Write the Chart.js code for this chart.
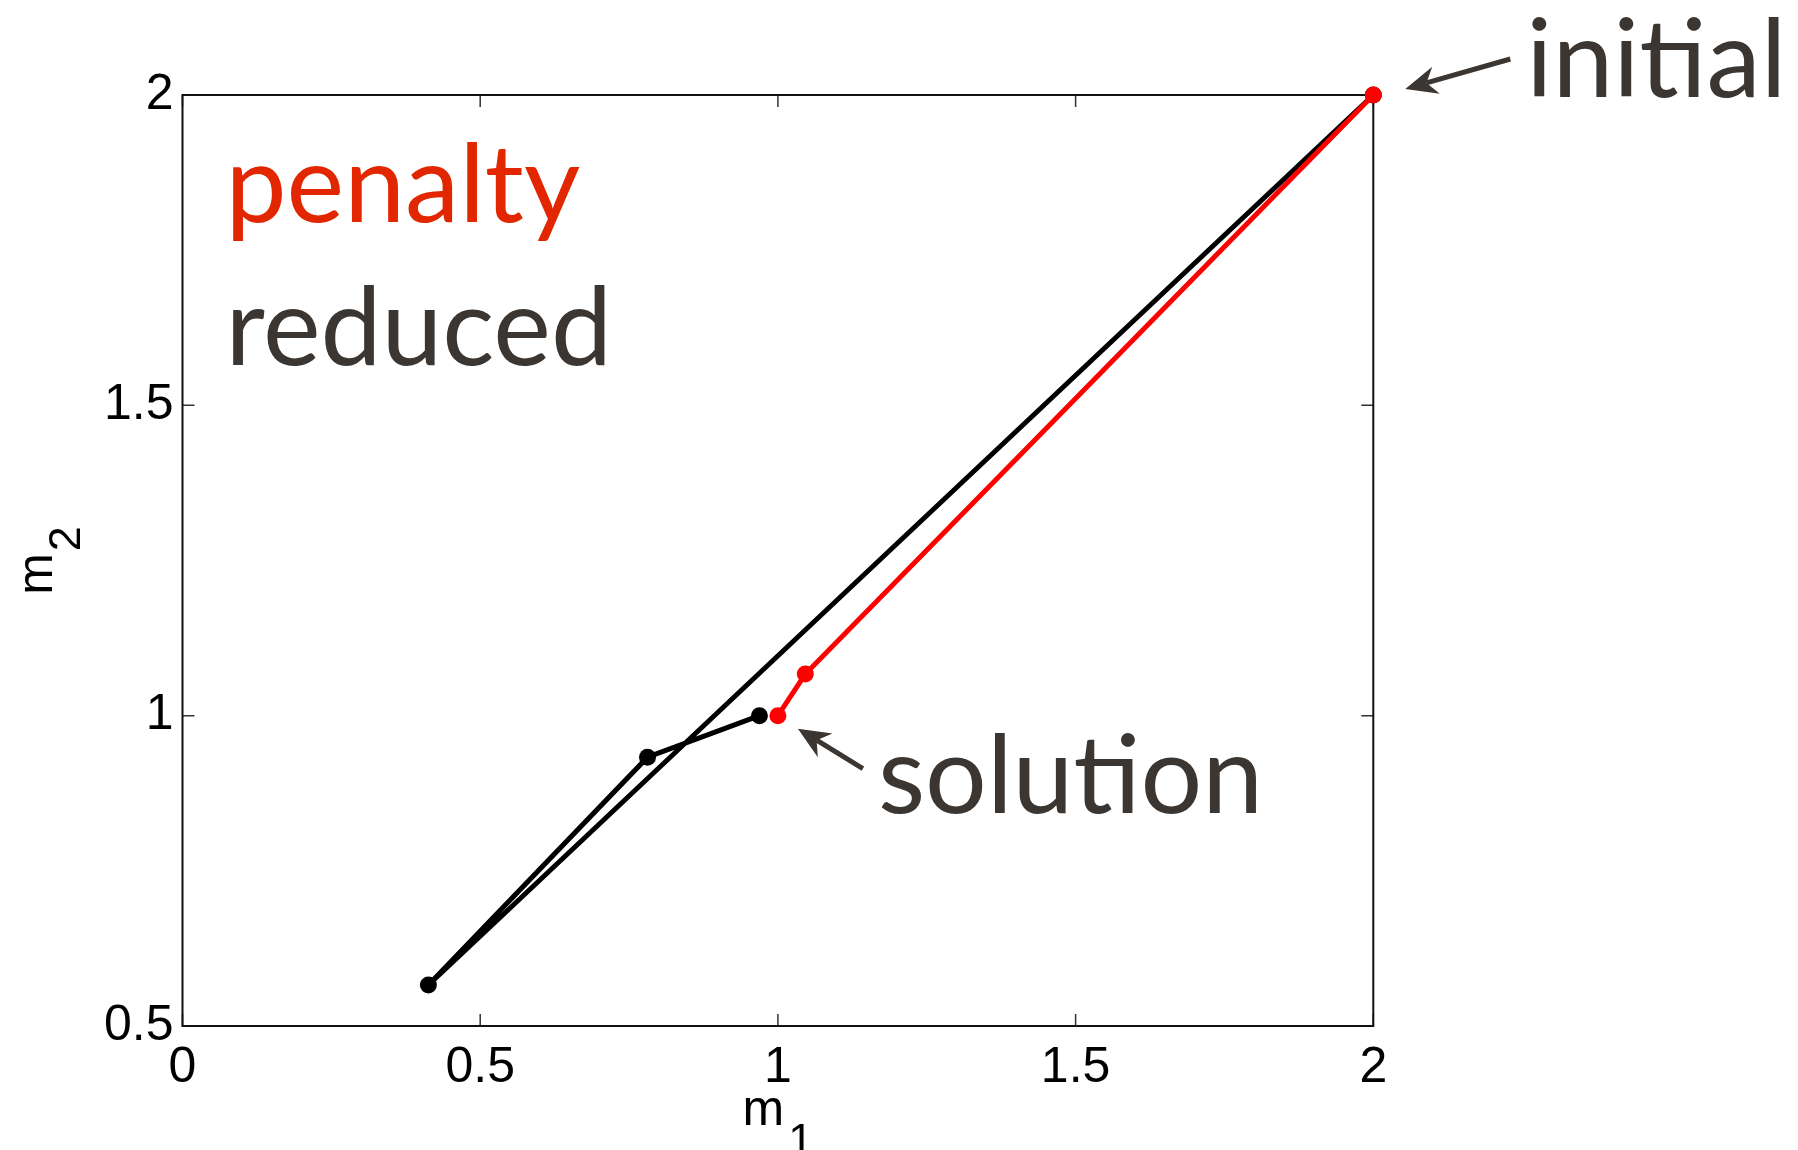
<!DOCTYPE html>
<html>
<head>
<meta charset="utf-8">
<script src="https://cdn.jsdelivr.net/npm/chart.js@4.4.1/dist/chart.umd.min.js"></script>
<style>
  html, body { margin: 0; padding: 0; background: #ffffff; }
  #wrap { width: 1798px; height: 1150px; position: relative; }
</style>
</head>
<body>
<div id="wrap"><canvas id="chart"></canvas></div>
<script>
// Axis ticks and their labels
const xTicks = [0, 0.5, 1, 1.5, 2];
const xTickLabels = ['0', '0.5', '1', '1.5', '2'];
const yTicks = [0.5, 1, 1.5, 2];
const yTickLabels = ['0.5', '1', '1.5', '2'];

// Iterates of the reduced method (m1, m2)
const reducedM1 = [2, 0.413, 0.781, 0.969];
const reducedM2 = [2, 0.566, 0.933, 1.0];

// Iterates of the penalty method (m1, m2)
const penaltyM1 = [2, 1.046, 1.0];
const penaltyM2 = [2, 1.067, 1.0];

// Labels
const seriesNames = ['reduced', 'penalty'];
const axisNames = ['m', 'm'];
const axisSubs = ['1', '2'];
const initialLabel = 'initial';
const solutionLabel = 'solution';
const initialPoint = [2, 2];
const solutionPoint = [1, 1];

const RED = '#ff0000';
const TEXT_RED = '#e22600';
const DARK = '#3b3631';
const TICK_FONT = '"Liberation Sans", Arial, Helvetica, sans-serif';
const NOTE_FONT = 'Lato, "Open Sans", sans-serif';

const toPoints = (xs, ys) => xs.map((x, i) => ({ x: x, y: ys[i] }));

function drawArrow(ctx, x1, y1, x2, y2) {
  // shaft from (x1,y1) to the tip (x2,y2), notched arrow head at the tip
  const ang = Math.atan2(y2 - y1, x2 - x1);
  const headLen = 32, halfW = 14, notch = 10;
  const cos = Math.cos(ang), sin = Math.sin(ang);
  const bx = x2 - headLen * cos, by = y2 - headLen * sin;
  const nx = x2 - (headLen - notch) * cos, ny = y2 - (headLen - notch) * sin;
  ctx.save();
  ctx.strokeStyle = DARK;
  ctx.fillStyle = DARK;
  ctx.lineWidth = 5;
  ctx.beginPath();
  ctx.moveTo(x1, y1);
  ctx.lineTo(nx, ny);
  ctx.stroke();
  ctx.beginPath();
  ctx.moveTo(x2, y2);
  ctx.lineTo(bx - halfW * sin, by + halfW * cos);
  ctx.lineTo(nx, ny);
  ctx.lineTo(bx + halfW * sin, by - halfW * cos);
  ctx.closePath();
  ctx.fill();
  ctx.restore();
}

const framePlugin = {
  id: 'frame',
  beforeDatasetsDraw(chart) {
    const { ctx, chartArea: a, scales } = chart;
    ctx.save();
    // inward tick marks on all four sides
    ctx.strokeStyle = '#333333';
    ctx.lineWidth = 1.5;
    const tl = 12;
    ctx.beginPath();
    xTicks.forEach(v => {
      const px = scales.x.getPixelForValue(v);
      ctx.moveTo(px, a.bottom); ctx.lineTo(px, a.bottom - tl);
      ctx.moveTo(px, a.top); ctx.lineTo(px, a.top + tl);
    });
    yTicks.forEach(v => {
      const py = scales.y.getPixelForValue(v);
      ctx.moveTo(a.left, py); ctx.lineTo(a.left + tl, py);
      ctx.moveTo(a.right, py); ctx.lineTo(a.right - tl, py);
    });
    ctx.stroke();
    // axes box
    ctx.strokeStyle = '#111111';
    ctx.lineWidth = 2;
    ctx.strokeRect(a.left, a.top, a.right - a.left, a.bottom - a.top);
    ctx.restore();
  },
  afterDraw(chart) {
    const { ctx, chartArea: a, scales } = chart;
    ctx.save();
    // axis titles with subscripts
    ctx.fillStyle = '#000000';
    ctx.textBaseline = 'alphabetic';
    ctx.textAlign = 'left';
    const mainFont = '50px ' + TICK_FONT;
    const subFont = '45px ' + TICK_FONT;
    ctx.font = mainFont;
    const mW = ctx.measureText(axisNames[0]).width;
    ctx.font = subFont;
    const s1W = ctx.measureText(axisSubs[0]).width;
    const cx = (a.left + a.right) / 2;
    const x0 = cx - (mW + 4 + s1W) / 2;
    ctx.font = mainFont;
    ctx.fillText(axisNames[0], x0, a.bottom + 99);
    ctx.font = subFont;
    ctx.fillText(axisSubs[0], x0 + mW + 4, a.bottom + 99 + 30);

    ctx.save();
    const cy = (a.top + a.bottom) / 2;
    ctx.translate(52, cy);
    ctx.rotate(-Math.PI / 2);
    ctx.font = mainFont;
    const m2W = ctx.measureText(axisNames[1]).width;
    ctx.font = subFont;
    const s2W = ctx.measureText(axisSubs[1]).width;
    const x2 = -(m2W + 2 + s2W) / 2;
    ctx.font = mainFont;
    ctx.fillText(axisNames[1], x2, 0);
    ctx.font = subFont;
    ctx.fillText(axisSubs[1], x2 + m2W + 2, 28);
    ctx.restore();

    // method names inside the axes
    ctx.font = '109px ' + NOTE_FONT;
    ctx.fillStyle = TEXT_RED;
    ctx.fillText(seriesNames[1], a.left + 43, a.top + 127);
    ctx.fillStyle = DARK;
    ctx.fillText(seriesNames[0], a.left + 43, a.top + 270);

    // initial / solution callouts
    const ix = scales.x.getPixelForValue(initialPoint[0]);
    const iy = scales.y.getPixelForValue(initialPoint[1]);
    drawArrow(ctx, ix + 137, iy - 36, ix + 32, iy - 6);
    ctx.fillText(initialLabel, ix + 153, iy + 2);

    const sx = scales.x.getPixelForValue(solutionPoint[0]);
    const sy = scales.y.getPixelForValue(solutionPoint[1]);
    drawArrow(ctx, sx + 85, sy + 53, sx + 20, sy + 13);
    ctx.fillText(solutionLabel, sx + 100, sy + 97);
    ctx.restore();
  }
};

const ctx = document.getElementById('chart').getContext('2d');
new Chart(ctx, {
  type: 'scatter',
  data: {
    datasets: [
      {
        label: seriesNames[0],
        data: toPoints(reducedM1, reducedM2),
        order: 2,
        showLine: true,
        borderColor: '#000000',
        backgroundColor: '#000000',
        borderWidth: 5,
        pointRadius: 8.5,
        pointBorderWidth: 0,
        clip: false
      },
      {
        label: seriesNames[1],
        data: toPoints(penaltyM1, penaltyM2),
        order: 1,
        showLine: true,
        borderColor: RED,
        backgroundColor: RED,
        borderWidth: 5,
        pointRadius: 8.5,
        pointBorderWidth: 0,
        clip: false
      }
    ]
  },
  options: {
    responsive: true,
    maintainAspectRatio: false,
    animation: false,
    events: [],
    layout: { padding: { left: 0, right: 424.7, top: 95, bottom: 0 } },
    plugins: {
      legend: { display: false },
      tooltip: { enabled: false },
      title: { display: false }
    },
    scales: {
      x: {
        type: 'linear',
        min: 0,
        max: 2,
        afterBuildTicks: s => { s.ticks = xTicks.map(v => ({ value: v })); },
        afterFit: s => { s.height = 124; },
        grid: { display: false, drawTicks: false },
        border: { display: false },
        ticks: {
          autoSkip: false,
          maxRotation: 0,
          padding: 12,
          color: '#000000',
          font: { family: TICK_FONT, size: 50 },
          callback: (v) => xTickLabels[xTicks.indexOf(v)]
        }
      },
      y: {
        type: 'linear',
        min: 0.5,
        max: 2,
        afterBuildTicks: s => { s.ticks = yTicks.map(v => ({ value: v })); },
        afterFit: s => { s.width = 182.5; },
        grid: { display: false, drawTicks: false },
        border: { display: false },
        ticks: {
          autoSkip: false,
          padding: 9,
          color: '#000000',
          font: { family: TICK_FONT, size: 50 },
          callback: (v) => yTickLabels[yTicks.indexOf(v)]
        }
      }
    }
  },
  plugins: [framePlugin]
});
</script>
</body>
</html>
